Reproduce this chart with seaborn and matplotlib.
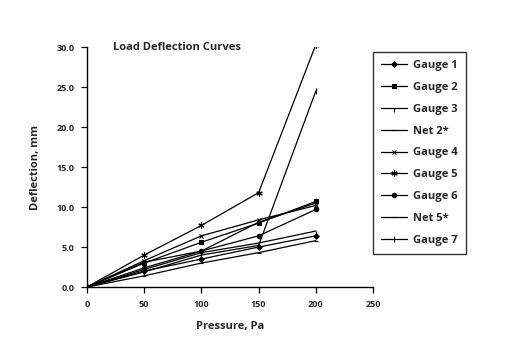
import matplotlib
matplotlib.use("Agg")
import matplotlib.pyplot as plt
import seaborn as sns
import pandas as pd
from matplotlib.ticker import FormatStrFormatter

sns.set_theme(style="white")
plt.rcParams['font.family'] = ['Open Sans', 'DejaVu Sans']
plt.rcParams['font.weight'] = 'bold'

pressure = [0, 50, 100, 150, 200]
series_names = ["Gauge 1", "Gauge 2", "Gauge 3", "Net 2*", "Gauge 4",
                "Gauge 5", "Gauge 6", "Net 5*", "Gauge 7"]
gauge1 = [0, 2.0, 3.5, 5.0, 6.4]
gauge2 = [0, 3.0, 5.6, 8.0, 10.7]
gauge3 = [0, 2.2, 4.3, 5.5, 7.0]
net2 = [0, 1.4, 3.0, 4.3, 5.8]
gauge4 = [0, 3.3, 6.4, 8.4, 10.2]
gauge5 = [0, 4.0, 7.7, 11.8, 30.3]
gauge6 = [0, 2.4, 4.5, 6.4, 9.7]
net5 = [0, 3.1, 4.5, 8.1, 10.5]
gauge7 = [0, 1.9, 4.0, 5.2, 24.5]
values = [gauge1, gauge2, gauge3, net2, gauge4, gauge5, gauge6, net5, gauge7]

markers = ['D', 's', 3, '_', 'x', (6, 2, 0), 'o', '_', '|']
msizes = [2.8, 2.8, 3, 3, 3.5, 4.5, 3.2, 3, 4.5]

fig = plt.figure(figsize=(5.12, 3.57), dpi=100)
ax = fig.add_axes([0.170, 0.196, 0.5585, 0.672])

for name, vals, m, ms in zip(series_names, values, markers, msizes):
    df = pd.DataFrame({"Pressure": pressure, "Deflection": vals})
    sns.lineplot(data=df, x="Pressure", y="Deflection", ax=ax, color='black',
                 marker=m, markersize=ms, linewidth=0.9, label=name,
                 markeredgecolor='black', markerfacecolor='black',
                 markeredgewidth=0.8, legend=False)

ax.set_xlim(0, 250)
ax.set_ylim(0, 30)
ax.set_xticks([0, 50, 100, 150, 200, 250])
ax.set_yticks([0, 5, 10, 15, 20, 25, 30])
ax.yaxis.set_major_formatter(FormatStrFormatter('%.1f'))
for s in ['top', 'right']:
    ax.spines[s].set_visible(False)
for s in ['left', 'bottom']:
    ax.spines[s].set_color('black')
    ax.spines[s].set_linewidth(1.0)
ax.tick_params(axis='both', which='major', direction='out', length=4, width=0.9,
               color='black', labelsize=6.5, left=True, bottom=True, pad=5)
for lbl in ax.get_xticklabels() + ax.get_yticklabels():
    lbl.set_fontweight('bold')

ax.set_xlabel("Pressure, Pa", fontsize=8, fontweight='bold', labelpad=9)
ax.set_ylabel("Deflection, mm", fontsize=8, fontweight='bold', labelpad=11)
ax.text(0.09, 1.0, "Load Deflection Curves", transform=ax.transAxes,
        fontsize=8, fontweight='bold', va='center', ha='left')

handles, labels = ax.get_legend_handles_labels()
leg = fig.legend(handles, labels, loc='upper left', bbox_to_anchor=(0.7285, 0.854),
                 frameon=True, fancybox=False, edgecolor='black', fontsize=8,
                 handlelength=2.4, labelspacing=0.98, borderpad=0.7,
                 handletextpad=0.5, borderaxespad=0)
leg.get_frame().set_linewidth(1.0)
for t in leg.get_texts():
    t.set_fontweight('bold')

fig.savefig("out.png", dpi=100)
